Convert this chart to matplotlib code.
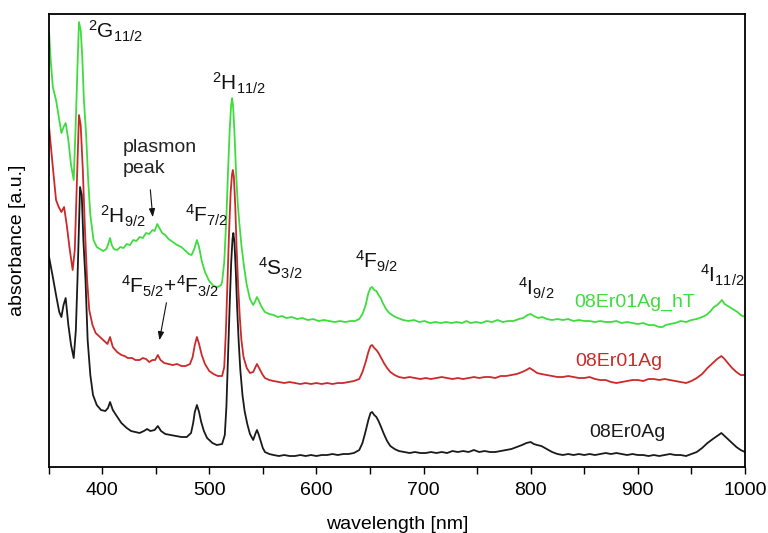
import numpy as np
import matplotlib
matplotlib.use("Agg")
import matplotlib.pyplot as plt

plt.rcParams["font.family"] = ["Liberation Sans", "DejaVu Sans"]
plt.rcParams["mathtext.fontset"] = "custom"
plt.rcParams["mathtext.rm"] = "Liberation Sans"

# ---- absorbance spectra (curves offset vertically for clarity) ----
# 08Er01Ag_hT
wl_hT = [350.5, 352, 354, 357, 360, 362, 364, 366, 368.5, 371, 373.5, 375.5, 377, 378.4, 380,
         381.5, 383, 385, 387, 389, 392,
         395, 398, 401, 404, 406, 407.4, 409, 411, 414, 417, 420, 423, 426, 429, 432, 435, 438,
         441, 444, 447, 449, 451.5, 453, 456, 459, 462, 466, 470, 474, 478, 481, 483.5, 486,
         488.5, 490.5, 493, 496, 500, 504, 508, 511,
         512, 514, 516, 517.5, 519, 520.3, 521.3, 522.3, 523.5, 525, 526.5, 528, 530, 532.5, 535,
         538, 541, 543, 544.5, 546, 548, 550, 552,
         556, 560, 564, 568, 572, 577, 582, 587, 592, 597, 602, 607, 612, 617, 622, 627, 632, 636,
         640, 643, 646, 648.5, 650.5, 652, 654, 656, 658, 660, 662, 665, 668, 672, 676, 681, 686,
         691, 696, 701, 706, 711, 716, 721, 726, 731, 736, 740, 744, 749, 754, 759, 764, 769, 774,
         779, 784, 789, 793, 797, 800, 803, 807, 811, 815, 820, 825, 830, 835, 840, 845, 850, 855,
         860, 865, 870, 875, 880, 885, 890, 895, 900, 905, 910, 915, 920, 923, 926, 930, 935, 940,
         945, 950, 955, 960, 964, 968, 971, 974, 976, 978.5, 981, 984, 987, 990, 993, 996, 1000]
abs_hT = [4.35, 4.07, 3.80, 3.67, 3.47, 3.34, 3.40, 3.44, 3.27, 3.02, 2.87, 3.47, 4.00, 4.45, 4.37,
          4.10, 3.67, 3.34, 2.87, 2.52, 2.27,
          2.20, 2.18, 2.16, 2.18, 2.24, 2.29, 2.22, 2.18, 2.17, 2.20, 2.19, 2.23, 2.22, 2.27, 2.26, 2.30, 2.29,
          2.34, 2.33, 2.37, 2.36, 2.43, 2.40, 2.34, 2.32, 2.28, 2.25, 2.22, 2.20, 2.16, 2.13, 2.12, 2.18,
          2.27, 2.20, 2.06, 1.95, 1.86, 1.81, 1.80, 1.82,
          1.85, 2.05, 2.50, 2.95, 3.35, 3.60, 3.69, 3.60, 3.35, 2.95, 2.65, 2.45, 2.22, 2.00, 1.82,
          1.68, 1.62, 1.66, 1.70, 1.67, 1.62, 1.58, 1.55,
          1.53, 1.52, 1.50, 1.51, 1.49, 1.50, 1.48, 1.49, 1.47, 1.48, 1.46, 1.47, 1.46, 1.45, 1.46, 1.45, 1.46, 1.46,
          1.48, 1.53, 1.62, 1.74, 1.79, 1.80, 1.77, 1.76, 1.72, 1.69, 1.64, 1.58, 1.54, 1.51, 1.49, 1.47, 1.46,
          1.47, 1.45, 1.46, 1.44, 1.45, 1.44, 1.45, 1.44, 1.45, 1.44, 1.46, 1.44, 1.45, 1.44, 1.46, 1.45, 1.47, 1.45,
          1.46, 1.46, 1.48, 1.49, 1.52, 1.53, 1.51, 1.49, 1.50, 1.48, 1.47, 1.48, 1.47, 1.48, 1.46, 1.47, 1.46, 1.46,
          1.45, 1.46, 1.45, 1.45, 1.46, 1.44, 1.45, 1.44, 1.43, 1.44, 1.42, 1.42, 1.40, 1.40, 1.42, 1.43, 1.44, 1.46,
          1.45, 1.47, 1.48, 1.50, 1.52, 1.56, 1.60, 1.62, 1.64, 1.67, 1.63, 1.61, 1.59, 1.57, 1.55, 1.52, 1.50]

# 08Er01Ag
wl_Ag = [350.5, 354, 357, 359.5, 362, 364.5, 367, 369.5, 372.5, 374.5, 376.5, 378.4, 380, 382, 384,
         386, 388,
         391, 394, 398, 402, 405, 407.4, 410, 414, 418, 421, 424, 428, 431, 435, 438, 441, 444,
         447, 449.5, 452, 454.5, 458, 462, 466, 470, 474, 478, 482, 484.5, 486.5, 488.5, 490.5,
         493, 496, 500, 504, 508,
         512, 514, 515.5, 517, 518.5, 520, 521.2, 522, 523, 524.3, 525.5, 527, 528.5, 530, 532,
         535, 538, 541, 544.5, 547, 550,
         552, 556, 560, 565, 570, 575, 580, 585, 590, 595, 600, 605, 610, 615, 620, 625, 630, 635,
         640, 643, 646, 648.5, 650.5, 652, 654, 656, 658, 660, 663, 666, 669, 673, 677, 682, 687,
         692, 697, 702, 707, 712, 717, 722, 727, 732, 737, 742, 747, 752, 757, 762, 767, 772, 777,
         782, 787, 792, 796, 799, 802, 806, 810, 815, 820, 825, 830, 835, 840, 845, 850, 855, 860,
         865, 870, 875, 880, 885, 890, 895, 900, 905, 910, 915, 920, 925, 930, 935, 940, 945, 950,
         955, 960, 965, 970, 974, 978, 981, 984, 988, 992, 996, 1000]
abs_Ag = [3.40, 3.00, 2.67, 2.60, 2.55, 2.60, 2.42, 2.20, 1.97, 2.17, 2.87, 3.52, 3.42, 2.97, 2.37,
          1.87, 1.57,
          1.42, 1.34, 1.30, 1.26, 1.23, 1.30, 1.20, 1.15, 1.12, 1.11, 1.09, 1.09, 1.07, 1.07, 1.09, 1.08, 1.05,
          1.07, 1.07, 1.12, 1.07, 1.04, 1.03, 1.02, 1.03, 1.01, 1.01, 1.03, 1.10, 1.22, 1.30, 1.23,
          1.12, 1.03, 0.96, 0.93, 0.91,
          0.91, 1.00, 1.35, 1.85, 2.35, 2.75, 2.92, 2.97, 2.90, 2.60, 2.20, 1.80, 1.50, 1.27, 1.10,
          0.99, 0.94, 0.95, 1.03, 0.98, 0.92,
          0.89, 0.87, 0.86, 0.85, 0.84, 0.85, 0.84, 0.83, 0.84, 0.83, 0.84, 0.83, 0.84, 0.83, 0.84, 0.84, 0.85, 0.86,
          0.88, 0.95, 1.05, 1.15, 1.21, 1.22, 1.19, 1.17, 1.14, 1.10, 1.04, 0.99, 0.95, 0.92, 0.90, 0.89, 0.90,
          0.89, 0.88, 0.89, 0.88, 0.89, 0.90, 0.89, 0.88, 0.89, 0.88, 0.89, 0.90, 0.89, 0.90, 0.90, 0.89, 0.91, 0.91,
          0.92, 0.93, 0.95, 0.97, 0.99, 0.97, 0.94, 0.93, 0.92, 0.91, 0.90, 0.90, 0.91, 0.90, 0.89, 0.89, 0.90, 0.88,
          0.87, 0.87, 0.85, 0.84, 0.85, 0.86, 0.87, 0.87, 0.86, 0.88, 0.88, 0.87, 0.88, 0.87, 0.86, 0.85, 0.84, 0.86,
          0.89, 0.93, 0.99, 1.04, 1.08, 1.11, 1.08, 1.04, 0.99, 0.95, 0.92, 0.92]

# 08Er0Ag
wl_0Ag = [350.5, 354, 357, 360, 362, 364, 366, 368.5, 371, 373.5, 375.5, 377, 379.4, 381, 382.5,
          384.5, 386.5, 389,
          391.5, 395, 399, 403, 405.5, 407.4, 410, 413, 418, 423, 427, 431, 435, 439, 442, 445,
          449, 452, 455, 459, 464, 469, 474, 479, 483, 485, 486.5, 488.5, 490.5, 492.5, 495, 498,
          503, 507,
          512, 514.5, 516, 517.5, 519, 520.5, 521.7, 522.5, 523.5, 524.8, 526, 527.5, 529, 531, 533,
          535.5, 538, 541, 543, 544.5, 546, 548, 550,
          552, 556, 560, 565, 570, 575, 580, 585, 590, 595, 600, 605, 610, 615, 620, 625, 630, 635,
          640, 643, 646, 648.5, 650.5, 652, 654, 656, 658, 660, 663, 666, 669, 673, 677, 682, 687,
          692, 697, 702, 707, 712, 717, 722, 727, 732, 737, 742, 747, 752, 757, 762, 767, 772, 777,
          782, 787, 792, 796, 800, 803, 806, 810, 815, 820, 825, 830, 835, 840, 845, 850, 855, 860,
          865, 870, 875, 880, 885, 890, 895, 900, 905, 910, 915, 920, 925, 930, 935, 940, 945, 950,
          955, 960, 965, 970, 974, 978, 981, 984, 988, 992, 996, 1000]
abs_0Ag = [2.10, 1.90, 1.72, 1.55, 1.50, 1.62, 1.69, 1.42, 1.22, 1.09, 1.37, 1.87, 2.80, 2.72, 2.27,
           1.87, 1.27, 0.92,
           0.72, 0.62, 0.57, 0.56, 0.59, 0.65, 0.57, 0.52, 0.44, 0.39, 0.36, 0.35, 0.34, 0.36, 0.38, 0.36,
           0.37, 0.41, 0.36, 0.33, 0.32, 0.31, 0.30, 0.30, 0.34, 0.44, 0.55, 0.62, 0.55, 0.45, 0.36, 0.29,
           0.24, 0.22,
           0.23, 0.32, 0.60, 1.10, 1.60, 2.05, 2.28, 2.34, 2.25, 1.95, 1.60, 1.25, 0.97, 0.72, 0.56,
           0.43, 0.33, 0.27, 0.33, 0.37, 0.33, 0.26, 0.19,
           0.15, 0.13, 0.12, 0.11, 0.12, 0.11, 0.11, 0.12, 0.11, 0.12, 0.11, 0.12, 0.12, 0.13, 0.12, 0.13, 0.13, 0.14,
           0.17, 0.24, 0.36, 0.47, 0.54, 0.55, 0.52, 0.50, 0.46, 0.41, 0.33, 0.26, 0.21, 0.18, 0.16, 0.15, 0.14,
           0.15, 0.14, 0.14, 0.15, 0.14, 0.15, 0.14, 0.16, 0.15, 0.16, 0.15, 0.17, 0.15, 0.16, 0.15, 0.15, 0.16, 0.17,
           0.18, 0.20, 0.22, 0.24, 0.25, 0.23, 0.22, 0.21, 0.18, 0.15, 0.13, 0.12, 0.13, 0.12, 0.13, 0.12, 0.13, 0.12,
           0.13, 0.14, 0.13, 0.14, 0.13, 0.12, 0.13, 0.12, 0.12, 0.11, 0.12, 0.11, 0.12, 0.13, 0.12, 0.12, 0.11, 0.13,
           0.15, 0.19, 0.24, 0.28, 0.31, 0.34, 0.31, 0.28, 0.24, 0.20, 0.17, 0.15]

series_names = ["08Er01Ag_hT", "08Er01Ag", "08Er0Ag"]
series_colors = ["#3fdc3f", "#cc2a2a", "#1a1a1a"]

# Er3+ transition labels: (text, wavelength, absorbance)
transitions = [
    (r"$\mathregular{^{2}G_{11/2}}$", 386.5, 4.29),
    (r"$\mathregular{^{2}H_{11/2}}$", 502.5, 3.77),
    (r"$\mathregular{^{2}H_{9/2}}$", 398.0, 2.44),
    (r"$\mathregular{^{4}F_{7/2}}$", 477.3, 2.45),
    (r"$\mathregular{^{4}F_{5/2}{+}^{4}F_{3/2}}$", 417.7, 1.74),
    (r"$\mathregular{^{4}S_{3/2}}$", 545.4, 1.92),
    (r"$\mathregular{^{4}F_{9/2}}$", 635.8, 1.99),
    (r"$\mathregular{^{4}I_{9/2}}$", 787.8, 1.72),
    (r"$\mathregular{^{4}I_{11/2}}$", 958.0, 1.85),
]

fig = plt.figure(figsize=(7.68, 5.33), dpi=100)
ax = fig.add_axes([0.0632, 0.1238, 0.9068, 0.8499])

for wl, ab, col in zip([wl_hT, wl_Ag, wl_0Ag], [abs_hT, abs_Ag, abs_0Ag], series_colors):
    ax.plot(wl, ab, color=col, lw=1.3)

ax.set_xlim(350, 1000)
ax.set_ylim(0, 4.53)
ax.set_xticks(np.arange(400, 1001, 100))
ax.set_xticks(np.arange(350, 1001, 50), minor=True)
ax.tick_params(axis="x", which="both", direction="out", length=5, width=1,
               labelsize=14, pad=6)
ax.set_yticks([])
for sp in ax.spines.values():
    sp.set_linewidth(1.3)

ax.set_xlabel("wavelength [nm]", fontsize=14, labelpad=12)
ax.set_ylabel("absorbance [a.u.]", fontsize=14, labelpad=16)

for txt, x, y in transitions:
    ax.text(x, y, txt, fontsize=15, ha="left", va="baseline", color="#111111")

ax.text(419.5, 3.15, "plasmon", fontsize=14, ha="left", va="baseline", color="#222222")
ax.text(419.5, 2.94, "peak", fontsize=14, ha="left", va="baseline", color="#222222")

arrow_style = dict(arrowstyle="-|>,head_length=0.5,head_width=0.18", color="#111111", lw=0.8)
ax.annotate("", xy=(447.5, 2.47), xytext=(444.8, 2.80), arrowprops=arrow_style)
ax.annotate("", xy=(453.0, 1.24), xytext=(460.5, 1.67), arrowprops=arrow_style)

label_pos = [(841, 1.60), (842, 1.01), (855, 0.30)]
for name, col, (x, y) in zip(series_names, series_colors, label_pos):
    ax.text(x, y, name, fontsize=14, color=col, ha="left", va="baseline")

fig.savefig("out.png", dpi=100)
